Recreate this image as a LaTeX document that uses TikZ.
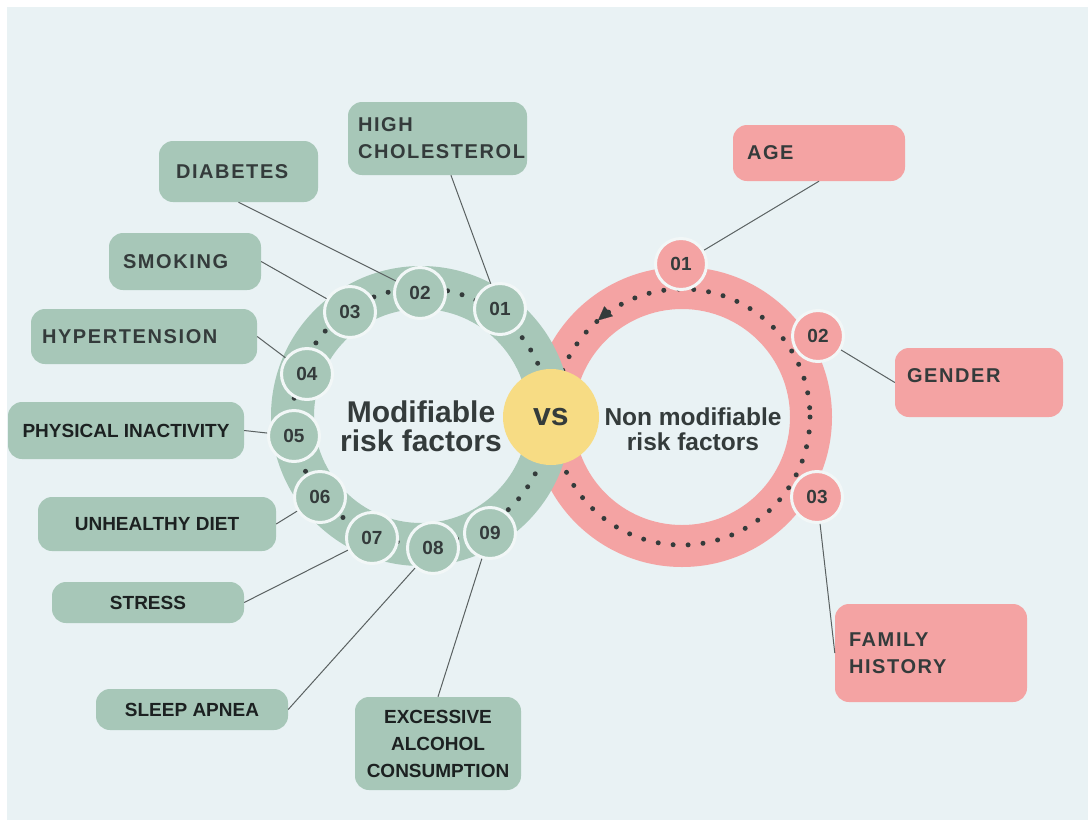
\documentclass[tikz,border=0pt]{standalone}
\usepackage{fontspec}
\setmainfont{Liberation Sans}
\newfontfamily\tagfont[LetterSpace=8.0]{Liberation Sans}
\usetikzlibrary{arrows.meta}

\definecolor{panel}{HTML}{E9F2F4}
\definecolor{sage}{HTML}{A7C7B8}
\definecolor{rose}{HTML}{F4A3A3}
\definecolor{sun}{HTML}{F7DC84}
\definecolor{ink}{HTML}{343B3B}
\definecolor{inkdark}{HTML}{1C2121}
\definecolor{wire}{HTML}{5A6161}
\definecolor{rim}{HTML}{F2F7F7}

\tikzset{
    box/.style={rounded corners=14pt, inner ysep=0pt},
    gbox/.style={box, fill=sage},
    pbox/.style={box, fill=rose},
    tag/.style={align=left, text=ink, font=\tagfont\bfseries\fontsize{20}{27}\selectfont},
    plain/.style={align=center, text=inkdark, font=\bfseries\fontsize{19}{27}\selectfont},
    num/.style={circle, draw=rim, line width=3pt, minimum size=51pt, inner sep=0pt,
        text=ink, font=\bfseries\fontsize{19}{19}\selectfont},
    gnum/.style={num, fill=sage},
    pnum/.style={num, fill=rose},
    wire/.style={draw=wire, line width=1pt},
    dots/.style={ink, line width=5pt, line cap=round, dash pattern=on 0pt off 15pt},
}

\begin{document}
\begin{tikzpicture}[x=1pt, y=-1pt]
    \useasboundingbox (0,0) rectangle (1088,820);
    \fill[white] (0,0) rectangle (1088,820);
    \fill[panel] (7,7) rectangle (1088,820);

    \coordinate (gc) at (421,416);
    \coordinate (pc) at (682,417);

    % --- RINGS ---
    \fill[rose, even odd rule] (pc) circle[radius=150] (pc) circle[radius=108];
    \draw[dots] (pc) circle[radius=128];
    \draw[ink, line width=0.1pt, -{Triangle[length=14pt,width=13pt]}]
        ([shift={(-125:128)}]pc) arc[start angle=-125, end angle=-131, radius=128];

    \fill[sage, even odd rule] (gc) circle[radius=150] (gc) circle[radius=107];
    \draw[dots] (gc) circle[radius=128];

    \node[circle, fill=sun, minimum size=96pt, inner sep=0pt, text=ink,
        font=\bfseries\fontsize{32}{32}\selectfont] (vs) at (551,417) {vs};

    % --- NUMBERS ---
    \foreach \n/\x/\y in {01/500/309, 02/420/293, 03/350/312, 04/307/374, 05/294/436,
                          06/320/497, 07/372/538, 08/433/548, 09/490/533}
        \node[gnum] (g\n) at (\x,\y) {\n};
    \foreach \n/\x/\y in {01/681/264, 02/818/336, 03/817/497}
        \node[pnum] (p\n) at (\x,\y) {\n};

    % --- MODIFIABLE FACTORS ---
    \node[gbox, tag, text width=159pt, inner xsep=10pt, minimum height=73pt] (hc) at (437.5,138.5) {HIGH\\CHOLESTEROL};
    \node[gbox, tag, text width=125pt, inner xsep=17pt, minimum height=61pt] (diab) at (238.5,171.5) {DIABETES};
    \node[gbox, tag, text width=124pt, inner xsep=14pt, minimum height=57pt] (smok) at (185,261.5) {SMOKING};
    \node[gbox, tag, text width=204pt, inner xsep=11pt, minimum height=55pt] (hyp) at (144,336.5) {HYPERTENSION};
    \node[gbox, plain, minimum width=236pt, minimum height=57pt] (phys) at (126,430.5) {PHYSICAL INACTIVITY};
    \node[gbox, plain, minimum width=238pt, minimum height=54pt] (diet) at (157,524) {UNHEALTHY DIET};
    \node[gbox, plain, minimum width=192pt, minimum height=41pt] (stress) at (148,602.5) {STRESS};
    \node[gbox, plain, minimum width=192pt, minimum height=41pt] (sleep) at (192,709.5) {SLEEP APNEA};
    \node[gbox, plain, minimum width=166pt, minimum height=93pt] (exc) at (438,743.5) {EXCESSIVE\\ALCOHOL\\CONSUMPTION};

    % --- NON MODIFIABLE FACTORS ---
    \node[pbox, tag, text width=144pt, inner xsep=14pt, minimum height=56pt] (age) at (819,153) {AGE};
    \node[pbox, tag, text width=144pt, inner xsep=12pt, minimum height=69pt, text depth=14pt] (gender) at (979,382.5) {GENDER};
    \node[pbox, tag, text width=164pt, inner xsep=14pt, minimum height=98pt] (fam) at (931,653) {FAMILY\\HISTORY};

    \draw[wire] (hc) -- (g01);
    \draw[wire] (diab.south) -- (g02);
    \draw[wire] (smok.east) -- (g03);
    \draw[wire] (hyp.east) -- (g04);
    \draw[wire] (phys.east) -- (g05);
    \draw[wire] (diet.east) -- (g06);
    \draw[wire] (stress.east) -- (g07);
    \draw[wire] (sleep.east) -- (g08);
    \draw[wire] (exc.north) -- (g09);
    \draw[wire] (age.south) -- (p01);
    \draw[wire] (gender.west) -- (p02);
    \draw[wire] (fam.west) -- (p03);

    % --- TITLES ---
    \node[align=center, text=ink, inner sep=0pt, font=\bfseries\fontsize{30}{29}\selectfont]
        (modt) at (421,426) {Modifiable\\risk factors};
    \node[align=center, text=ink, inner sep=0pt, font=\bfseries\fontsize{24.5}{25}\selectfont]
        (nont) at (693,429) {Non modifiable\\risk factors};
\end{tikzpicture}
\end{document}
